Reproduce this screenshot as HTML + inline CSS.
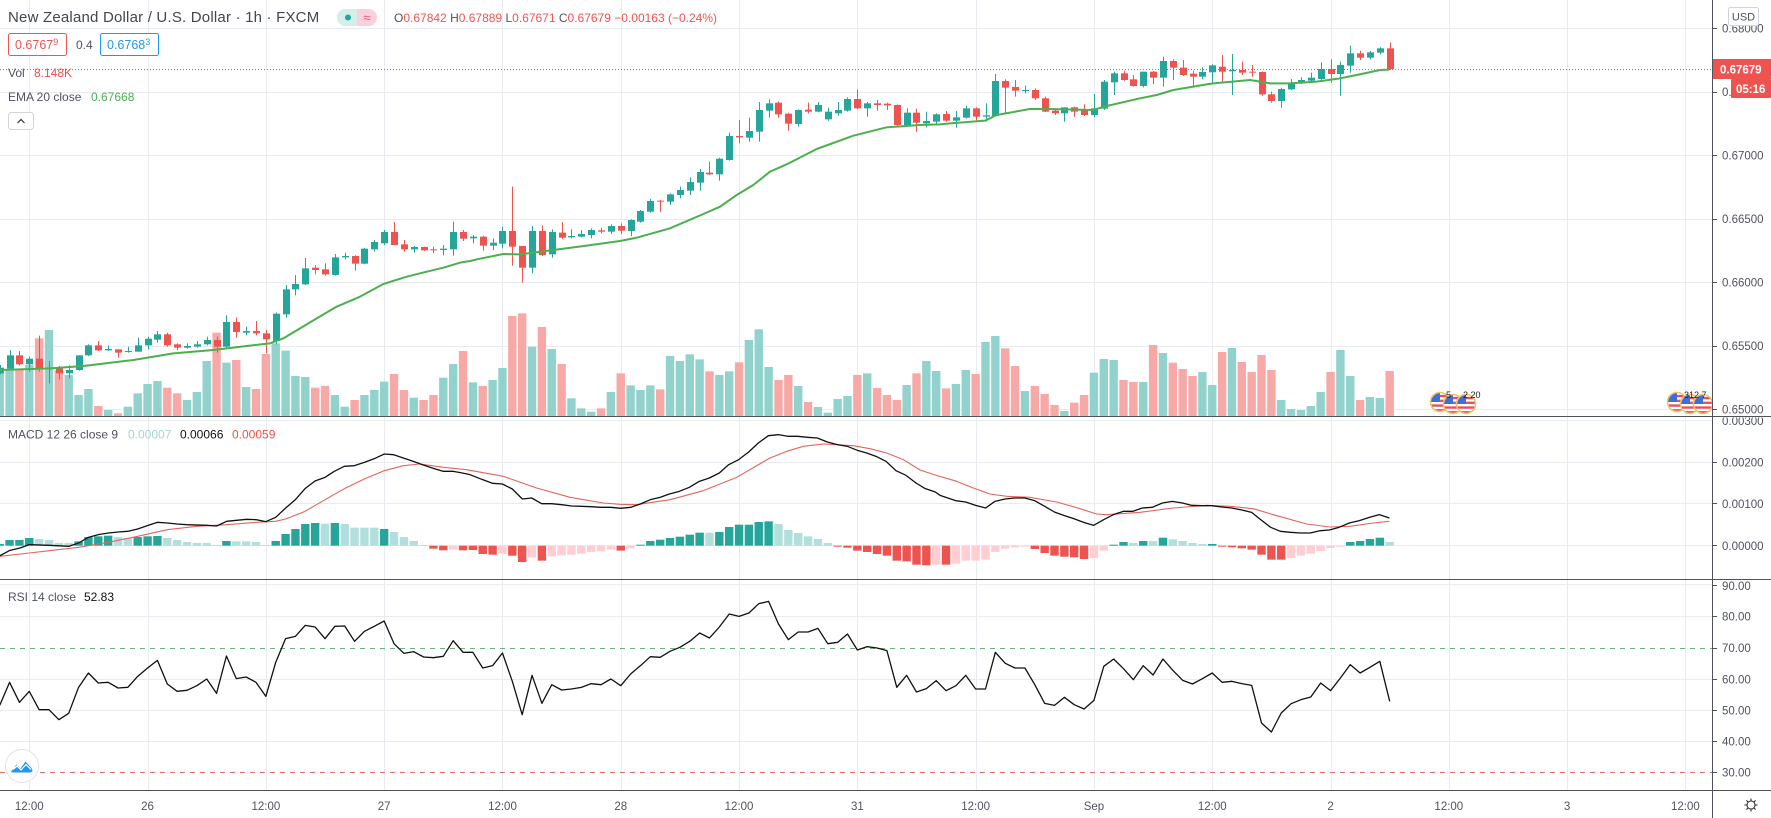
<!DOCTYPE html>
<html><head><meta charset="utf-8">
<style>
html,body{margin:0;padding:0;background:#fff;}
body{width:1771px;height:818px;overflow:hidden;position:relative;}
svg{position:absolute;left:0;top:0;font-family:"Liberation Sans",sans-serif;}
</style></head><body>
<svg id="c" width="1771" height="818" viewBox="0 0 1771 818" xmlns="http://www.w3.org/2000/svg">
<defs>
<clipPath id="cpMain"><rect x="0" y="0" width="1712" height="416"/></clipPath>
<clipPath id="cpMacd"><rect x="0" y="417" width="1712" height="162"/></clipPath>
<clipPath id="cpRsi"><rect x="0" y="580" width="1712" height="210"/></clipPath>
<clipPath id="cpAxM"><rect x="1713" y="417.5" width="58" height="161"/></clipPath>
<clipPath id="cc" clipPathUnits="objectBoundingBox"><circle cx=".5" cy=".5" r=".5"/></clipPath>
</defs>
<rect x="0" y="0" width="1771" height="818" fill="#fff"/>
<g id="grid" stroke="#e8ecf1" stroke-width="1">
<line x1="0" y1="28.5" x2="1712" y2="28.5"/>
<line x1="0" y1="92.5" x2="1712" y2="92.5"/>
<line x1="0" y1="155.5" x2="1712" y2="155.5"/>
<line x1="0" y1="219.5" x2="1712" y2="219.5"/>
<line x1="0" y1="282.5" x2="1712" y2="282.5"/>
<line x1="0" y1="346.5" x2="1712" y2="346.5"/>
<line x1="0" y1="409.5" x2="1712" y2="409.5"/>
<line x1="0" y1="420.5" x2="1712" y2="420.5"/>
<line x1="0" y1="462.5" x2="1712" y2="462.5"/>
<line x1="0" y1="503.5" x2="1712" y2="503.5"/>
<line x1="0" y1="545.5" x2="1712" y2="545.5"/>
<line x1="0" y1="584.5" x2="1712" y2="584.5"/>
<line x1="0" y1="616.5" x2="1712" y2="616.5"/>
<line x1="0" y1="679.5" x2="1712" y2="679.5"/>
<line x1="0" y1="710.5" x2="1712" y2="710.5"/>
<line x1="0" y1="741.5" x2="1712" y2="741.5"/>
</g>
<line x1="0" y1="648.5" x2="1712" y2="648.5" stroke="#6fae86" stroke-dasharray="5,5"/>
<line x1="0" y1="772.5" x2="1712" y2="772.5" stroke="#d9716e" stroke-dasharray="5,5"/>

<g id="main" clip-path="url(#cpMain)">
<g id="vol"></g>
<line x1="0" y1="69.5" x2="1712" y2="69.5" stroke="#ef5350" stroke-dasharray="1,2"/>
<g id="cdl"></g>
<polyline id="ema" fill="none" stroke="#4caf50" stroke-width="2" stroke-linejoin="round"/>
<g id="ev"></g>
</g>
<g clip-path="url(#cpMacd)">
<g id="hist"></g>
<polyline id="sig" fill="none" stroke="#e5645c" stroke-width="1.1" stroke-linejoin="round"/>
<polyline id="macd" fill="none" stroke="#111" stroke-width="1.3" stroke-linejoin="round"/>
</g>
<g clip-path="url(#cpRsi)">
<polyline id="rsi" fill="none" stroke="#111" stroke-width="1.3" stroke-linejoin="round"/>
</g>

<!-- header -->
<text x="8" y="22" font-size="15" fill="#434651" letter-spacing="0.2">New Zealand Dollar / U.S. Dollar · 1h · FXCM</text>
<rect x="337" y="9" width="40" height="17" rx="8.5" fill="#f9d0dc"/>
<path d="M345.5 9 H357 V26 H345.5 A8.5 8.5 0 0 1 345.5 9 Z" fill="#d4eee9"/>
<circle cx="348" cy="17.5" r="3" fill="#26a69a"/>
<text x="367" y="22" font-size="13" fill="#e0557a" text-anchor="middle">≈</text>
<text x="394" y="22" font-size="12" fill="#50535e">O<tspan fill="#ef5350">0.67842</tspan> H<tspan fill="#ef5350">0.67889</tspan> L<tspan fill="#ef5350">0.67671</tspan> C<tspan fill="#ef5350">0.67679</tspan> <tspan fill="#ef5350">−0.00163 (−0.24%)</tspan></text>

<rect x="8.5" y="33.5" width="58" height="22" rx="2" fill="#fff" stroke="#ef5350"/>
<text x="15" y="49" font-size="12.5" fill="#ef5350">0.6767<tspan font-size="9" dy="-4">9</tspan></text>
<text x="76" y="49" font-size="12" fill="#50535e">0.4</text>
<rect x="100.5" y="33.5" width="58" height="22" rx="2" fill="#fff" stroke="#2196f3"/>
<text x="107" y="49" font-size="12.5" fill="#2196f3">0.6768<tspan font-size="9" dy="-4">3</tspan></text>

<text x="8" y="77" font-size="12" fill="#50535e">Vol</text>
<text x="34" y="77" font-size="12" fill="#ef5350">8.148K</text>
<text x="8" y="101" font-size="12" fill="#50535e">EMA 20 close</text>
<text x="91" y="101" font-size="12" fill="#4caf50">0.67668</text>
<rect x="8.5" y="112.5" width="25" height="17" rx="3" fill="#fff" stroke="#d1d4dc"/>
<path d="M17.5 123 L21 119.5 L24.5 123" stroke="#333" stroke-width="1.2" fill="none"/>

<text x="8" y="438.5" font-size="12" fill="#50535e">MACD 12 26 close 9</text>
<text x="128" y="438.5" font-size="12" fill="#a5d6d0">0.00007</text>
<text x="180" y="438.5" font-size="12" fill="#111">0.00066</text>
<text x="232" y="438.5" font-size="12" fill="#ef5350">0.00059</text>
<text x="8" y="601" font-size="12" fill="#50535e">RSI 14 close</text>
<text x="84" y="601" font-size="12" fill="#111">52.83</text>

<!-- logo -->
<circle cx="22" cy="766" r="16.5" fill="#fff" stroke="#e0e3eb"/>
<path d="M11.5 771 L16.5 764.5 L20.5 768.5 L25.5 761.5 L31.5 768 Q34 772 30 772.5 L14 772.5 Q10.5 772.5 11.5 771 Z" fill="#2196f3"/>
<path d="M13 769.5 L17 766 L21 770 L26 764.5 L31 769.5" stroke="#fff" stroke-width="1.2" fill="none"/>

<!-- axes -->
<line x1="1712.5" y1="0" x2="1712.5" y2="818" stroke="#50535e"/>
<line x1="0" y1="416.5" x2="1771" y2="416.5" stroke="#50535e"/>
<line x1="0" y1="579.5" x2="1771" y2="579.5" stroke="#50535e"/>
<line x1="0" y1="790.5" x2="1771" y2="790.5" stroke="#50535e"/>
<g stroke="#50535e">
<line x1="1713" y1="28.5" x2="1717" y2="28.5"/><line x1="1713" y1="92.5" x2="1717" y2="92.5"/>
<line x1="1713" y1="155.5" x2="1717" y2="155.5"/><line x1="1713" y1="219.5" x2="1717" y2="219.5"/>
<line x1="1713" y1="282.5" x2="1717" y2="282.5"/><line x1="1713" y1="346.5" x2="1717" y2="346.5"/>
<line x1="1713" y1="409.5" x2="1717" y2="409.5"/>
<line x1="1713" y1="462.5" x2="1717" y2="462.5"/><line x1="1713" y1="503.5" x2="1717" y2="503.5"/>
<line x1="1713" y1="545.5" x2="1717" y2="545.5"/>
<line x1="1713" y1="585.5" x2="1717" y2="585.5"/><line x1="1713" y1="616.5" x2="1717" y2="616.5"/>
<line x1="1713" y1="648.5" x2="1717" y2="648.5"/><line x1="1713" y1="679.5" x2="1717" y2="679.5"/>
<line x1="1713" y1="710.5" x2="1717" y2="710.5"/><line x1="1713" y1="741.5" x2="1717" y2="741.5"/>
<line x1="1713" y1="772.5" x2="1717" y2="772.5"/>
</g>
<g font-size="11.5" fill="#50535e">
<text x="1722" y="32.5">0.68000</text>
<text x="1722" y="96">0.67500</text>
<text x="1722" y="159.5">0.67000</text>
<text x="1722" y="223">0.66500</text>
<text x="1722" y="286.5">0.66000</text>
<text x="1722" y="350">0.65500</text>
<text x="1722" y="413.5">0.65000</text>
<text x="1722" y="425" clip-path="url(#cpAxM)">0.00300</text>
<text x="1722" y="466.5">0.00200</text>
<text x="1722" y="508">0.00100</text>
<text x="1722" y="550">0.00000</text>
<text x="1722" y="590">90.00</text>
<text x="1722" y="620.5">80.00</text>
<text x="1722" y="652">70.00</text>
<text x="1722" y="683.5">60.00</text>
<text x="1722" y="714.5">50.00</text>
<text x="1722" y="745.5">40.00</text>
<text x="1722" y="776.5">30.00</text>
</g>
<rect x="1728.5" y="7.5" width="30" height="18" rx="2" fill="#fff" stroke="#d1d4dc"/>
<text x="1743.5" y="20.5" font-size="11" fill="#50535e" text-anchor="middle">USD</text>
<rect x="1713" y="59" width="58" height="20" fill="#ef5350"/>
<text x="1720" y="73.5" font-size="11.5" font-weight="bold" fill="#fff">0.67679</text>
<rect x="1731" y="79" width="40" height="19" rx="1" fill="#ef5350"/>
<text x="1736" y="93" font-size="11.5" font-weight="bold" fill="#fff">05:16</text>

<g id="tl" font-size="11.5" fill="#50535e" text-anchor="middle"></g>
<g transform="translate(1751,805)" stroke="#333" fill="none" stroke-width="1.1">
<circle r="4"/>
<line x1="0" y1="-4" x2="0" y2="-6.5"/><line x1="0" y1="4" x2="0" y2="6.5"/>
<line x1="-4" y1="0" x2="-6.5" y2="0"/><line x1="4" y1="0" x2="6.5" y2="0"/>
<line x1="2.8" y1="2.8" x2="4.6" y2="4.6"/><line x1="-2.8" y1="-2.8" x2="-4.6" y2="-4.6"/>
<line x1="2.8" y1="-2.8" x2="4.6" y2="-4.6"/><line x1="-2.8" y1="2.8" x2="-4.6" y2="4.6"/>
</g>
</svg>
<script>
(function(){
var NS="http://www.w3.org/2000/svg";
function el(tag,a,p){var e=document.createElementNS(NS,tag);for(var k in a)e.setAttribute(k,a[k]);p.appendChild(e);return e;}
function X(i){return -0.3+9.858*i;}
function $(id){return document.getElementById(id);}
var grid=$('grid');
for(var k=0;k<15;k++){var gx=Math.round(X(3+12*k))+0.5;el('line',{x1:gx,y1:0,x2:gx,y2:790},grid);}
var tl=$('tl');var labs=["12:00","26","12:00","27","12:00","28","12:00","31","12:00","Sep","12:00","2","12:00","3","12:00"];
for(var k=0;k<15;k++){var t=el('text',{x:X(3+12*k),y:810},tl);t.textContent=labs[k];}

var C=[
[1,713,730,705,733],[1,676,716,660,720],[0,676,703,663,707],[1,686,703,680,725],[0,686,718,617,725],
[1,713,716,693,760],[0,713,730,708,748],[1,720,730,706,745],[1,676,720,676,722],[1,646,676,643,678],
[0,646,661,633,663],[1,657,661,646,663],[0,658,668,658,683],[1,663,666,650,668],[1,646,665,623,665],
[1,626,646,620,658],[1,613,629,603,638],[0,613,646,608,650],[0,643,653,640,660],[1,648,653,640,656],
[1,643,650,633,653],[1,630,643,620,646],[0,630,650,620,668],[1,576,650,556,653],[0,576,606,563,623],
[1,603,608,590,616],[0,603,610,573,616],[0,610,628,600,670],[1,551,633,548,643],[1,478,553,465,563],
[1,462,478,435,496],[1,415,463,384,465],[0,413,420,405,433],[0,418,433,400,437],[1,382,435,372,437],
[1,378,382,368,388],[0,378,401,376,422],[1,356,401,354,403],[1,336,358,330,365],[1,306,340,300,345],
[0,306,345,276,345],[0,343,358,330,365],[1,351,358,348,368],[0,351,361,350,363],[0,358,361,350,370],
[1,356,360,345,376],[1,306,358,275,377],[0,306,326,300,333],
[1,500,505,495,520],[0,500,527,497,542],[1,518,527,505,540],[1,483,521,470,535],[0,483,530,350,587],
[0,528,593,528,638],[1,483,593,468,610],[0,483,555,466,558],[1,486,553,478,563],[0,488,503,456,507],
[1,498,502,478,505],[1,492,500,480,502],[1,480,495,475,505],[0,481,485,473,490],[1,468,485,463,492],
[0,468,482,460,492],[1,450,483,448,498],[1,423,455,420,458],[1,393,425,386,428],[0,392,395,390,425],
[1,373,395,370,405],[1,360,375,350,385],[1,336,362,322,375],[1,306,338,297,362],[0,308,313,275,315],
[1,266,313,263,332],[1,198,270,188,272],[0,198,202,150,220],[1,183,203,143,215],[1,120,185,96,215],
[1,100,122,88,143],[0,98,133,94,143],[0,131,161,128,182],[1,120,162,118,170],[0,119,125,98,130],
[1,105,125,96,127],[1,125,148,113,152],[1,120,130,96,137],[1,87,122,82,125],[0,87,115,58,118],
[1,100,115,96,140],[0,100,105,90,122],[0,101,106,98,120],[0,105,165,103,172],[1,128,165,115,168],
[0,128,158,116,185],[1,153,160,125,172],[1,133,155,130,165],
[0,252,272,243,275],[1,262,272,243,293],[1,235,263,228,266],[0,235,260,232,272],[1,256,260,220,275],
[1,153,258,132,260],[0,153,173,148,250],[0,171,182,150,200],[1,180,182,167,190],[0,180,205,175,210],
[0,205,245,200,246],[0,242,250,235,255],[1,232,250,232,275],[0,232,245,230,260],[0,240,255,223,258],
[1,235,255,192,262],[1,155,236,150,240],[1,130,157,125,195],[0,130,150,122,152],[0,148,168,135,170],
[1,125,168,125,172],[0,125,143,123,163],[1,93,143,80,170],[0,93,113,88,150],[0,113,135,90,138],
[0,131,140,122,168],[1,126,140,112,148],[1,106,127,103,158],[0,110,125,75,160],[1,120,124,72,195],
[0,120,128,95,135],[0,125,128,105,140],[0,126,193,124,197],[0,193,213,185,218],[1,177,213,173,233],
[1,158,178,147,180],[1,150,160,142,162],[1,143,152,128,153],[1,117,147,97,150],[0,117,132,88,158],
[1,105,132,95,197],[1,70,107,47,128],[0,70,83,62,90],[1,67,83,63,88],[1,55,68,52,73],[0,55,117,37,120]];
var V=[715,720,720,705,625,600,720,735,795,777,828,840,850,830,790,762,753,773,790,810,786,693,608,698,690,771,777,672,640,662,738,741,773,768,795,830,810,795,780,755,732,780,803,810,795,743,702,663,
937,948,930,894,738,730,830,771,837,882,985,1015,1025,1015,966,910,946,960,946,958,858,873,853,868,904,915,904,877,810,778,891,930,915,948,996,1011,1028,987,978,915,910,954,975,990,945,910,873,903,
1075,1062,1020,1032,936,918,955,1008,1083,1068,1092,1125,1143,1118,1095,1028,987,990,1050,1056,1056,945,969,998,1017,1038,1026,1065,966,954,996,1026,975,1020,1110,1137,1140,1128,1086,1026,960,1038,1110,1101,1104,1023];
function off(i){return i<48?130:(i<96?70:30);}
var gv=$('vol'),gc=$('cdl');
for(var i=0;i<C.length;i++){
 var o=off(i),d=C[i],up=d[0]===1;
 var top=o+V[i]/3;
 el('rect',{x:(X(i)-4.2).toFixed(2),y:top.toFixed(2),width:8.4,height:(416.5-top).toFixed(2),fill:up?'#92d2cc':'#f7a9a7'},gv);
 var cx=Math.round(X(i)),col=up?'#26a69a':'#ef5350';
 var wt=o+d[3]/3,wb=o+d[4]/3,bt=o+d[1]/3,bb=o+d[2]/3;
 el('rect',{x:cx,y:wt.toFixed(2),width:1,height:(wb-wt).toFixed(2),fill:col},gc);
 el('rect',{x:cx-3,y:bt.toFixed(2),width:7,height:Math.max(1,bb-bt).toFixed(2),fill:col},gc);
}
function pts(segs){var s=[];segs.forEach(function(sg){sg.p.forEach(function(q){s.push((sg.x+q[0]/3).toFixed(2)+','+(sg.y+q[1]/3).toFixed(2));});});return s.join(' ');}
$('ema').setAttribute('points',pts([
{x:0,y:130,p:[[0,720],[150,715],[250,708],[400,690],[520,670],[640,660],[740,648],[810,640],[850,625],[900,595],[950,565],[1010,530],[1080,500],[1150,462],[1220,440],[1280,425],[1330,413],[1380,398],[1410,393]]},
{x:470,y:70,p:[[30,566],[100,552],[150,553],[250,540],[350,527],[450,513],[500,503],[600,475],[700,432],[750,410],[800,375],[850,345],[900,305],[950,283],[1040,237],[1150,197],[1250,172],[1350,165],[1410,163]]},
{x:940,y:30,p:[[30,280],[135,272],[170,255],[270,237],[330,237],[460,240],[500,228],[600,205],[650,195],[700,180],[800,163],[820,160],[930,150],[960,155],[990,160],[1050,160],[1130,155],[1200,145],[1250,135],[1320,120],[1348,119]]}]));
$('macd').setAttribute('points',pts([
{x:0,y:418,p:[[0,413],[30,397],[60,390],[88,380],[148,382],[206,385],[236,375],[265,358],[295,350],[325,345],[355,342],[383,340],[413,333],[442,323],[472,313],[502,315],[531,318],[560,320],[620,322],[650,324],[680,310],[710,307],[740,304],[768,305],[797,311],[827,298],[857,270],[887,244],[915,212],[945,189],[975,178],[1003,160],[1033,145],[1063,143],[1093,133],[1123,122],[1153,108],[1180,110],[1210,120],[1240,130],[1270,141],[1300,151],[1330,160],[1360,160],[1387,165]]},
{x:470,y:418,p:[[0,170],[38,185],[68,196],[97,198],[127,213],[157,243],[185,240],[215,257],[245,257],[275,260],[305,264],[334,265],[362,266],[392,268],[422,268],[452,271],[482,268],[511,258],[541,245],[570,238],[598,228],[628,220],[658,208],[688,190],[718,180],[748,165],[776,140],[806,125],[836,102],[865,75],[895,53],[925,50],[955,55],[983,55],[1013,58],[1042,60],[1072,72],[1102,80],[1132,85],[1162,97],[1190,105],[1218,115],[1248,130],[1278,158],[1308,172],[1338,195],[1366,212],[1396,222]]},
{x:940,y:418,p:[[0,232],[18,238],[47,248],[77,252],[107,262],[137,270],[165,250],[195,243],[224,240],[254,240],[284,248],[314,265],[343,282],[371,292],[401,302],[431,313],[461,322],[491,305],[520,290],[550,280],[578,280],[607,270],[637,268],[667,255],[697,250],[727,255],[755,262],[785,263],[815,263],[845,267],[875,270],[905,276],[935,283],[962,305],[992,328],[1021,340],[1051,343],[1081,345],[1111,345],[1141,338],[1168,336],[1197,328],[1228,315],[1258,308],[1288,298],[1318,290],[1348,300]]}]));
$('sig').setAttribute('points',pts([
{x:0,y:418,p:[[0,415],[88,405],[148,398],[236,388],[325,373],[413,355],[502,335],[590,325],[680,320],[768,313],[827,310],[857,303],[915,280],[975,245],[1033,212],[1093,183],[1153,158],[1210,143],[1260,138],[1330,148],[1400,155]]},
{x:470,y:418,p:[[0,157],[100,175],[200,210],[300,238],[400,255],[450,259],[500,260],[600,245],[700,218],[800,178],[900,120],[950,100],[1000,85],[1060,78],[1100,80],[1150,83],[1200,92],[1250,105],[1300,125],[1350,156],[1405,174]]},
{x:940,y:418,p:[[30,184],[50,190],[100,210],[150,228],[200,235],[270,238],[350,252],[420,272],[470,288],[500,290],[600,283],[700,270],[800,262],[870,265],[940,272],[1000,290],[1100,318],[1170,327],[1230,325],[1300,315],[1348,310]]}]));
var HC="DDDDLLLLDDDDLLDDDLLLLLLDLLLLDDDDDLDLLLLDLLLLRRPR"+"RRRPRRPRPPPPPPPRPDDDDDDDLDDDDDDLLLLLLRRRRRRRRRRP"+"RPPPPPPPPRRRRRRPPDDLDLDLLLLDRRRRRRRPPPPPPDDDDL";
var HV=[378,366,366,360,363,366,375,375,370,357,355,353,357,360,357,355,354,360,366,372,375,375,381,369,370,370,372,381,369,348,333,318,315,317,315,318,329,329,329,333,342,357,369,381,392,397,395,397,
396,408,410,407,413,432,418,428,415,412,410,407,402,400,395,398,391,380,369,365,360,356,350,344,344,342,327,320,320,312,310,318,336,345,355,363,375,386,389,398,402,408,413,428,430,440,442,440,
440,437,428,428,425,402,392,388,386,393,405,413,416,418,423,420,398,380,372,375,369,369,359,364,369,375,378,378,386,388,391,395,410,425,425,420,413,407,399,390,386,372,369,363,359,372];
var HCOL={D:'#26a69a',L:'#b2dfdb',R:'#ef5350',P:'#ffcdd2'};
var gh=$('hist'),z=545.7;
for(var i=0;i<HV.length;i++){var y=418+HV[i]/3,y0=Math.min(y,z),h=Math.max(0.9,Math.abs(y-z));
 el('rect',{x:(X(i)-4.2).toFixed(2),y:y0.toFixed(2),width:8.4,height:h.toFixed(2),fill:HCOL[HC.charAt(i)]},gh);}
var R=[862,793,853,820,875,875,905,886,808,765,795,793,810,808,775,750,727,798,820,817,803,783,826,714,782,777,793,835,733,662,655,622,627,662,625,624,670,640,625,609,677,706,701,717,719,715,668,703,
703,750,743,705,790,890,772,856,800,816,813,808,797,800,783,803,768,743,716,718,700,688,670,645,660,627,588,595,585,557,550,618,665,642,642,631,677,673,648,696,686,690,698,808,772,822,812,788,
818,803,772,813,813,703,736,750,750,800,856,862,838,860,873,847,745,723,752,785,743,771,723,757,787,798,782,765,793,790,797,802,915,942,885,857,845,837,795,818,780,740,765,748,730,850];
var rp=[];for(var i=0;i<R.length;i++){rp.push(X(i).toFixed(2)+','+(418+R[i]/3).toFixed(2));}
$('rsi').setAttribute('points',rp.join(' '));
// event icons
var ev=$('ev');
function icon(cx,cy,r){
 var g=el('g',{},ev);
 var inner=el('g',{'clip-path':'url(#cc)'},g);
 el('rect',{x:cx-r,y:cy-r,width:2*r,height:2*r,fill:'#fff'},inner);
 for(var s=0;s<4;s++)el('rect',{x:cx-r,y:cy-r+s*r/2+r/4,width:2*r,height:r/4,fill:'#e8505b'},inner);
 el('rect',{x:cx-r,y:cy-r,width:r,height:r,fill:'#3d6fd6'},inner);
 el('circle',{cx:cx,cy:cy,r:r,fill:'none',stroke:'#f5bf6a','stroke-width':1.5},g);
}
[[1440,402],[1453,404],[1466,404]].forEach(function(q){icon(q[0],q[1],9.5);});
[[1677,402],[1690,404],[1703,404]].forEach(function(q){icon(q[0],q[1],9.5);});
var t1=el('text',{x:1446,y:398,'font-size':9,fill:'#222'},ev);t1.textContent='5';
var t2=el('text',{x:1463,y:398,'font-size':9,fill:'#222'},ev);t2.textContent='2 20';
var t3=el('text',{x:1684,y:398,'font-size':9,fill:'#222'},ev);t3.textContent='312 7';
})();
</script>
</body></html>
